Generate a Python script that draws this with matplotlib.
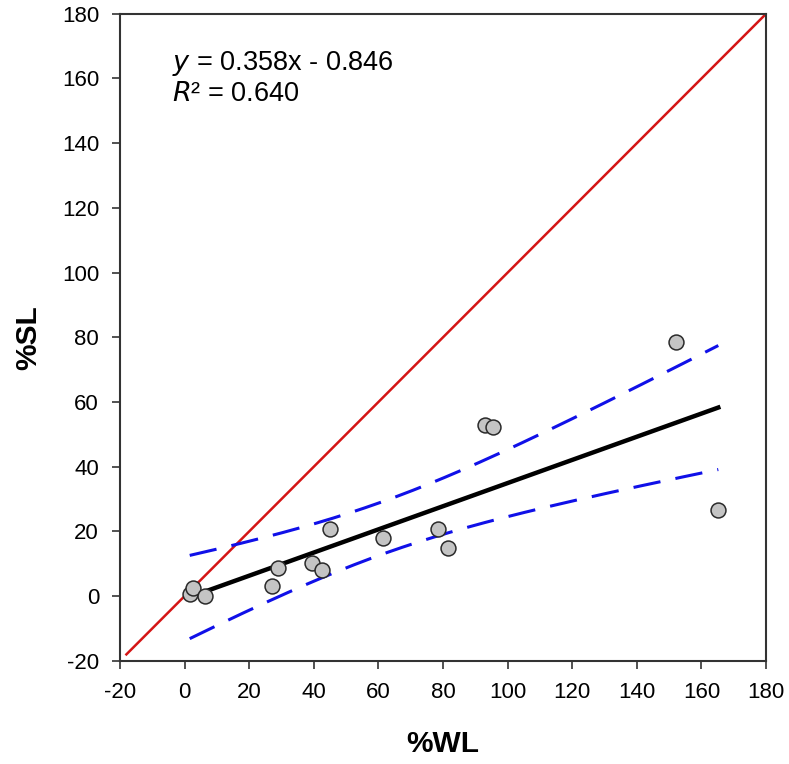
import numpy as np
import matplotlib.pyplot as plt

plt.rcParams['font.family'] = ['Liberation Sans', 'DejaVu Sans']
plt.rcParams['axes.unicode_minus'] = False

# data
wl = [1.6, 2.6, 6.3, 27.0, 28.8, 39.4, 42.4, 44.9, 61.3, 78.3, 81.4, 93.1, 95.6, 152.2, 165.2]
sl = [0.7, 2.6, 0.1, 3.2, 8.7, 10.3, 8.1, 20.8, 18.0, 20.8, 14.9, 53.0, 52.3, 78.6, 26.7]
slope = 0.358
intercept = -0.846
r2 = 0.640
identity_range = [-18, 180]
ticks = [-20, 0, 20, 40, 60, 80, 100, 120, 140, 160, 180]

x = np.array(wl)
y = np.array(sl)
n = len(x)

# 95% confidence band of the regression mean
xs = np.linspace(x.min(), x.max(), 200)
yfit = slope * xs + intercept
resid = y - (slope * x + intercept)
s = np.sqrt(np.sum(resid**2) / (n - 2))
sxx = np.sum((x - x.mean())**2)
t = 2.160  # t(0.975, df=13)
half = t * s * np.sqrt(1 / n + (xs - x.mean())**2 / sxx)

fig = plt.figure(figsize=(7.89, 7.64), dpi=100)
ax = fig.add_axes([0.152, 0.135, 0.819, 0.847])

ax.plot(identity_range, identity_range, color='#d41515', lw=1.8, zorder=2)
ax.plot(xs, yfit + half, color='#1010e8', lw=2.2, dashes=(9, 5), zorder=3)
ax.plot(xs, yfit - half, color='#1010e8', lw=2.2, dashes=(9, 5), zorder=3)
ax.plot(xs, yfit, color='black', lw=3.2, zorder=4)
ax.scatter(x, y, s=115, facecolor='#c4c4c4', edgecolor='#2a2a2a', lw=1.1, zorder=5)

ax.set_xlim(-20, 180)
ax.set_ylim(-20, 180)
ax.set_xticks(ticks)
ax.set_yticks(ticks)
ax.tick_params(direction='out', length=6, width=1.2, labelsize=16, color='#333333', pad=9)
for sp in ax.spines.values():
    sp.set_linewidth(1.5)
    sp.set_color('#333333')

ax.set_xlabel('%WL', fontsize=21.5, fontweight='bold', labelpad=20)
ax.set_ylabel('%SL', fontsize=21.5, fontweight='bold', labelpad=14)

ax.text(0.08, 0.923, '$\\mathit{y}$ = %.3fx - %.3f' % (slope, -intercept),
        transform=ax.transAxes, fontsize=19.5, va='center')
ax.text(0.08, 0.876, '$\\mathit{R}$\u00b2 = %.3f' % r2,
        transform=ax.transAxes, fontsize=19.5, va='center')

fig.savefig('out.png', dpi=100)
